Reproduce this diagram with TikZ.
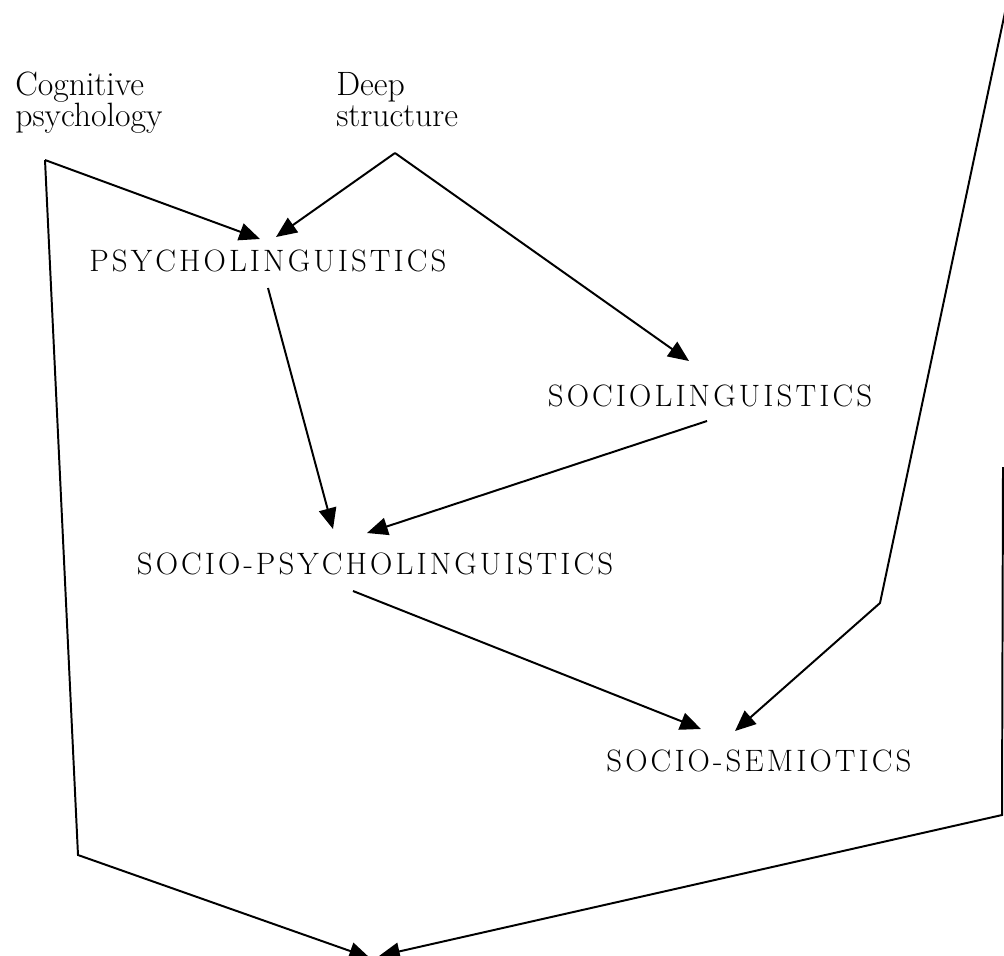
\documentclass[tikz,border=0pt]{standalone}
\usepackage{fontspec}
\setmainfont{Latin Modern Roman}
\newfontfamily\spacedcaps[LetterSpace=10]{Latin Modern Roman}
\usepackage{tikz}
\usetikzlibrary{arrows.meta,positioning}
\begin{document}
\begin{tikzpicture}[x=0.025cm,y=-0.025cm]
                \tikzset{every node/.style={inner sep=0pt},
                  source/.style={align=left,anchor=north west,font=\fontsize{24}{22}\selectfont},
                  field/.style={font=\spacedcaps\fontsize{22}{24}\selectfont},
                  link/.style={line width=1.4pt,line join=miter,-{Triangle[length=0.52cm,width=0.44cm]}}}
                \useasboundingbox (0,0) rectangle (1004,955);
                % sources
                \node [source] (cog) at (15,72) {Cognitive\\psychology};
                \node [source] (deep) at (336,72) {Deep\\structure};
                % fields
                \node [field] (psy) at (268,261) {PSYCHOLINGUISTICS};
                \node [field] (soc) at (710,396) {SOCIOLINGUISTICS};
                \node [field] (sps) at (375,564) {SOCIO-PSYCHOLINGUISTICS};
                \node [field] (sem) at (759,761) {SOCIO-SEMIOTICS};
                % bends and ends of the lines
                \coordinate (cogfoot) at (45,160);
                \coordinate (cogbend) at (78,855);
                \coordinate (deepfoot) at (395,153);
                \coordinate (psyin1) at (260,239);
                \coordinate (psyin2) at (276,237);
                \coordinate (psyout) at (268,288);
                \coordinate (socin) at (689,361);
                \coordinate (socout) at (707,421);
                \coordinate (spsin1) at (333,529);
                \coordinate (spsin2) at (367,533);
                \coordinate (spsout) at (353,591);
                \coordinate (semin1) at (701,729);
                \coordinate (semin2) at (735,731);
                \coordinate (topright) at (1008,-2);
                \coordinate (rightbend) at (880,603);
                \coordinate (edgetop) at (1003,467);
                \coordinate (edgebend) at (1002,815);
                \coordinate (bottomin1) at (370,958);
                \coordinate (bottomin2) at (379,956);
                % connectors
                \draw [link] (cogfoot) -- (psyin1);
                \draw [link] (cogfoot) -- (cogbend) -- (bottomin1);
                \draw [link] (deepfoot) -- (psyin2);
                \draw [link] (deepfoot) -- (socin);
                \draw [link] (psyout) -- (spsin1);
                \draw [link] (socout) -- (spsin2);
                \draw [link] (spsout) -- (semin1);
                \draw [link] (topright) -- (rightbend) -- (semin2);
                \draw [link] (edgetop) -- (edgebend) -- (bottomin2);
\end{tikzpicture}
\end{document}
